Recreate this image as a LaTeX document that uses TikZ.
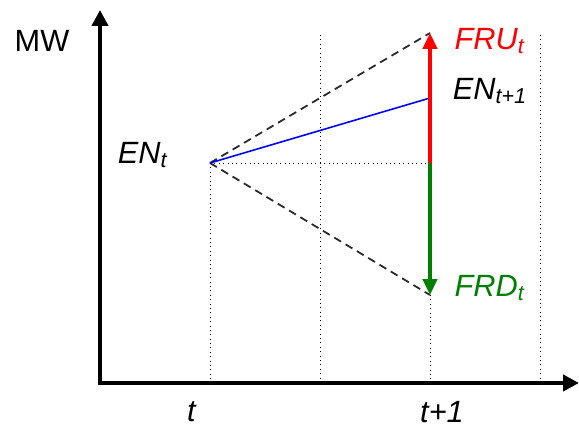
\documentclass[tikz,border=0pt]{standalone}
\usepackage{fontspec}
\setmainfont{Liberation Sans}
\usepackage{xcolor}
\usepackage{tikz}
\usetikzlibrary{arrows.meta,positioning}
\definecolor{fruRed}{RGB}{255,0,0}
\definecolor{frdGreen}{RGB}{0,128,0}
\definecolor{enBlue}{RGB}{0,0,255}
\definecolor{dashGray}{RGB}{40,40,40}
\newcommand{\lbl}[2]{\textit{#1}\textsubscript{\textit{#2}}}

\begin{document}
\begin{tikzpicture}[x=0.02cm,y=-0.02cm,
  axis/.style={line width=2.3pt,-{Triangle[length=9pt,width=9pt]}},
  grid/.style={line width=0.5pt,dotted},
  bound/.style={dashGray,line width=1pt,dash pattern=on 4.5pt off 3pt},
  reserve/.style={line width=2pt,-{Triangle[length=9pt,width=8pt]}},
  txt/.style={font=\fontsize{17.5}{20}\selectfont,inner sep=0pt}]
\useasboundingbox (0,0) rectangle (579,428);
\coordinate (O) at (100,383);
\coordinate (ytop) at (100,10);
\coordinate (xend) at (579,383);
\coordinate (ENt) at (210,163);
\coordinate (mid) at (430,163);
\coordinate (up) at (430,33);
\coordinate (down) at (430,295);
\coordinate (next) at (430,98);
\foreach \x in {320,540}
  \draw[grid] (\x,35) -- (\x,383);
\draw[grid] (ENt) -- (ENt |- O);
\draw[grid] (down) -- (down |- O);
\draw[grid] (ENt) -- (mid);
\draw[bound] (ENt) -- (up);
\draw[bound] (ENt) -- (down);
\draw[enBlue, line width=0.9pt] (ENt) -- (next);
\draw[reserve, fruRed] (mid) -- (up);
\draw[reserve, frdGreen] (mid) -- (down);
\draw[axis] (O) -- (ytop);
\draw[axis] ([xshift=-1.15pt]O) -- (xend);
\node[txt] (mw) at (42,41) {MW};
\node[txt] (enLbl) at (143,155) {\lbl{EN}{t}};
\node[txt, text=fruRed] (fruLbl) at (490,41) {\lbl{FRU}{t}};
\node[txt] (nextLbl) at (490,91) {\lbl{EN}{t+1}};
\node[txt, text=frdGreen] (frdLbl) at (490,288) {\lbl{FRD}{t}};
\node[txt] (tLbl) at (192,412) {\textit{t}};
\node[txt] (t1Lbl) at (442,412) {\textit{t+1}};
\end{tikzpicture}
\end{document}
